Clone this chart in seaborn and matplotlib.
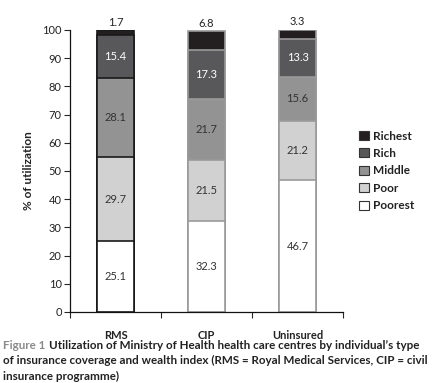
import matplotlib.pyplot as plt
import numpy as np
import pandas as pd
import seaborn as sns

# Data
groups = ["RMS", "CIP", "Uninsured"]
levels = ["Poorest", "Poor", "Middle", "Rich", "Richest"]
poorest = [25.1, 32.3, 46.7]
poor = [29.7, 21.5, 21.2]
middle = [28.1, 21.7, 15.6]
rich = [15.4, 17.3, 13.3]
richest = [1.7, 6.8, 3.3]

level_colors = ["#ffffff", "#d1d1d1", "#939393", "#58585a", "#231f20"]
text_colors = ["#333333", "#333333", "#333333", "#ffffff", "#333333"]
edge_colors = ["#1a1a1a", "#9a9a9a", "#9a9a9a"]

sns.set_style("white")
plt.rcParams["font.family"] = ["Lato", "DejaVu Sans"]

df = pd.DataFrame(
    {"group": groups, "Poorest": poorest, "Poor": poor, "Middle": middle,
     "Rich": rich, "Richest": richest}
)
values = df[levels].to_numpy()
cum = np.cumsum(values, axis=1)

fig = plt.figure(figsize=(4.33, 3.83), dpi=100)
ax = fig.add_axes([0.1617, 0.1854, 0.6305, 0.7363])

# draw cumulative bars from the top layer down so lower layers overlay
for i in range(len(levels) - 1, -1, -1):
    sns.barplot(
        x=df["group"], y=cum[:, i], ax=ax, color=level_colors[i],
        width=0.4, linewidth=1.2, saturation=1, label=levels[i],
    )
    for patch, ec in zip(ax.patches[-len(groups):], edge_colors):
        patch.set_edgecolor(ec)

# segment labels
for g in range(len(groups)):
    for i in range(len(levels) - 1):
        mid = cum[g, i] - values[g, i] / 2
        ax.text(g, mid, f"{values[g, i]:.1f}", ha="center", va="center",
                fontsize=8, color=text_colors[i])
    ax.text(g, cum[g, -1] + 0.8, f"{values[g, -1]:.1f}", ha="center",
            va="bottom", fontsize=8, color="#222222", clip_on=False)

ax.set_ylim(0, 100)
ax.set_xlim(-0.5, 2.5)
ax.set_yticks(range(0, 101, 10))
ax.set_xticks(range(len(groups)))
ax.set_xticklabels(groups, fontweight="bold")
ax.set_xticks([-0.5, 0.5, 1.5, 2.5], minor=True)
ax.tick_params(axis="x", which="major", length=0, pad=13, labelsize=8,
               labelcolor="#222222")
ax.tick_params(axis="x", which="minor", length=4, width=0.8, direction="out",
               bottom=True)
ax.tick_params(axis="y", length=4, width=0.8, direction="out", left=True,
               labelsize=8, pad=2, labelcolor="#222222")
ax.set_xlabel("")
ax.set_ylabel("% of utilization", fontsize=8.5, fontweight="bold",
              color="#222222", labelpad=6)
for side in ["top", "right"]:
    ax.spines[side].set_visible(False)
for side in ["left", "bottom"]:
    ax.spines[side].set_color("#111111")
    ax.spines[side].set_linewidth(0.9)

handles, labels = ax.get_legend_handles_labels()
leg = ax.legend(
    handles, labels, loc="center left", bbox_to_anchor=(1.02, 0.5),
    frameon=False, fontsize=8.5, handlelength=0.8, handleheight=0.8,
    handletextpad=0.4, labelspacing=0.55,
)
for h in leg.legend_handles:
    h.set_edgecolor("#333333")
    h.set_linewidth(0.8)
for t in leg.get_texts():
    t.set_fontweight("bold")
    t.set_color("#222222")

# caption: grey "Figure 1" followed by dark text
cap_size = 8.4
fig_lbl = fig.text(0.008, 0.098, "Figure 1", fontsize=cap_size, color="#8a8a8a",
                   fontweight="bold", va="center")
renderer = fig.canvas.get_renderer()
bb = fig_lbl.get_window_extent(renderer=renderer)
x_next = (bb.x1 + 3) / fig.bbox.width
fig.text(x_next, 0.098,
         "Utilization of Ministry of Health health care centres by individual\u2019s type",
         fontsize=cap_size, color="#222222", fontweight="bold", va="center")
fig.text(0.008, 0.058,
         "of insurance coverage and wealth index (RMS = Royal Medical Services, CIP = civil",
         fontsize=cap_size, color="#222222", fontweight="bold", va="center")
fig.text(0.008, 0.018, "insurance programme)", fontsize=cap_size, color="#222222",
         fontweight="bold", va="center")

fig.savefig("out.png", dpi=100)
